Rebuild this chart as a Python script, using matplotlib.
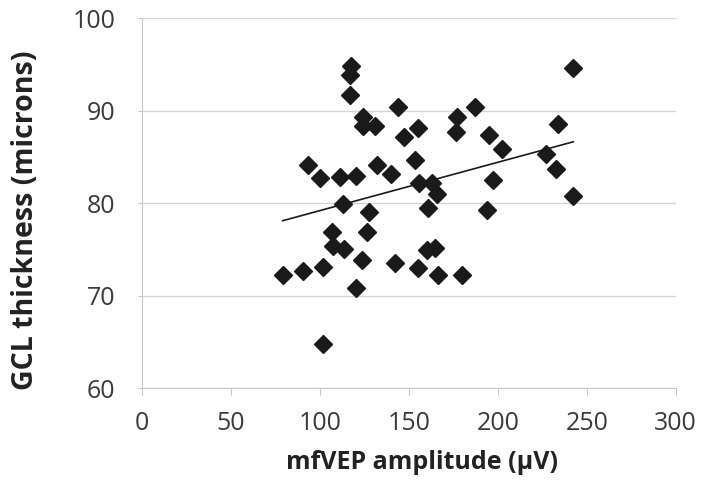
import numpy as np
import matplotlib.pyplot as plt

plt.rcParams['font.family'] = ['Open Sans', 'DejaVu Sans']

# mfVEP amplitude (uV) and GCL thickness (microns)
amplitude = [242.5, 144.2, 177.3, 187.2, 176.6, 234.1, 155.4, 147.6, 195.3, 202.2,
             227.1, 232.8, 153.5, 140.0, 155.8, 162.9, 165.7, 161.0, 197.5, 194.2,
             242.5, 160.5, 164.8, 142.3, 155.4, 166.6, 179.8, 117.4, 116.8, 116.8,
             124.3, 124.3, 131.0, 93.6, 100.2, 111.4, 120.4, 132.0, 113.3, 127.9,
             126.7, 107.0, 107.6, 113.8, 123.6, 79.2, 90.4, 101.7, 120.4, 102.0]
thickness = [94.6, 90.4, 89.3, 90.4, 87.7, 88.6, 88.1, 87.2, 87.4, 85.9,
             85.3, 83.7, 84.7, 83.2, 82.2, 82.2, 81.0, 79.5, 82.5, 79.3,
             80.8, 75.0, 75.2, 73.5, 73.0, 72.2, 72.2, 94.8, 93.9, 91.7,
             89.3, 88.4, 88.4, 84.1, 82.7, 82.8, 83.0, 84.1, 79.9, 79.1,
             76.9, 76.9, 75.4, 75.1, 73.9, 72.3, 72.7, 73.1, 70.8, 64.8]

x = np.array(amplitude)
y = np.array(thickness)
slope, intercept = np.polyfit(x, y, 1)
xfit = np.array([x.min(), x.max()])

fig = plt.figure(figsize=(7.04, 4.82), dpi=100)
ax = fig.add_axes([0.2013, 0.1944, 0.7585, 0.7676])

ax.plot(x, y, linestyle='none', marker='D', markersize=9.5,
        color='#1a1a1a', zorder=3)
ax.plot(xfit, slope * xfit + intercept, color='#1a1a1a', lw=1.2, zorder=4)

ax.set_xlim(0, 300)
ax.set_ylim(60, 100)
ax.set_xticks(range(0, 301, 50))
ax.set_yticks(range(60, 101, 10))
ax.yaxis.grid(True, color='#d4d4d4', lw=1)
ax.set_axisbelow(True)
for side in ['top', 'right']:
    ax.spines[side].set_visible(False)
for side in ['left', 'bottom']:
    ax.spines[side].set_color('#c8c8c8')
ax.tick_params(axis='x', colors='#c8c8c8', length=5, labelcolor='#3a3a3a',
               labelsize=18, pad=11)
ax.tick_params(axis='y', colors='#c8c8c8', length=3, labelcolor='#3a3a3a',
               labelsize=18, pad=16)

ax.set_xlabel('mfVEP amplitude (μV)', fontsize=18, fontweight='bold',
              color='#222222')
ax.set_ylabel('GCL thickness (microns)', fontsize=20.5, fontweight='bold',
              color='#222222')
ax.xaxis.set_label_coords(0.524, -0.167)
ax.yaxis.set_label_coords(-0.19, 0.4535)

fig.savefig('out.png', dpi=100)
